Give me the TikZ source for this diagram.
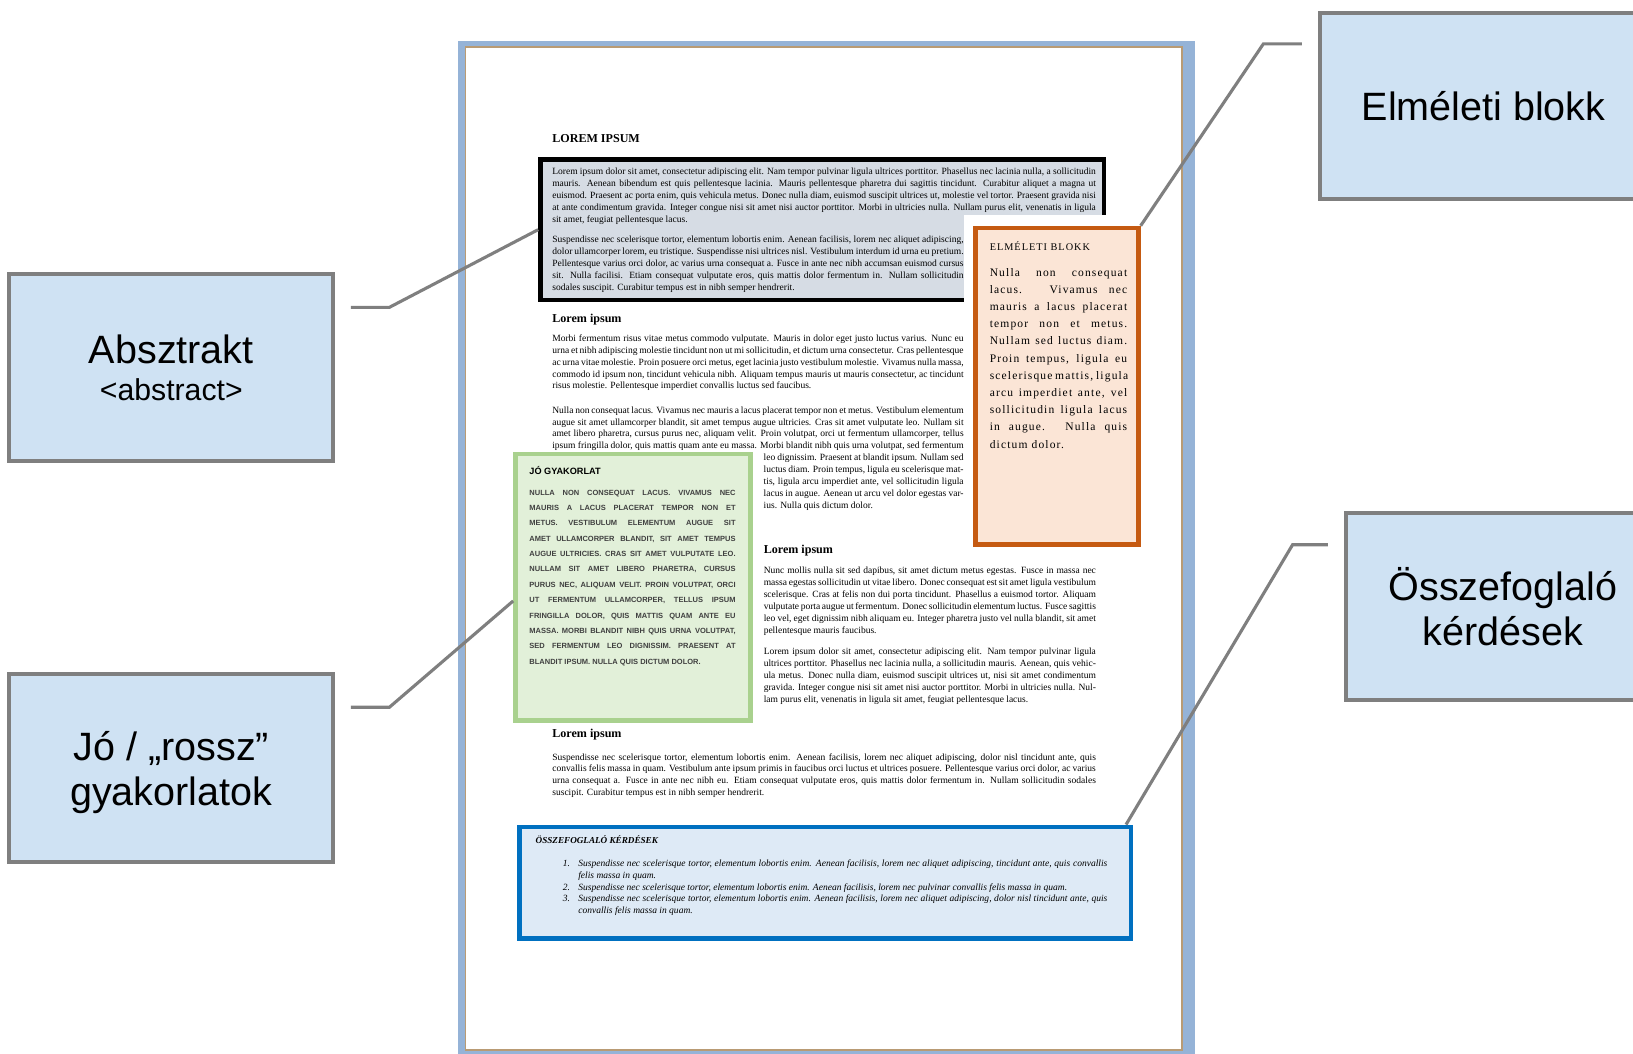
\documentclass[tikz,border=0pt]{standalone}
\usepackage{fontspec}
\setmainfont{Liberation Serif}
\newfontfamily\calloutfont{Liberation Sans}
\newfontfamily\wideserif[LetterSpace=10]{Liberation Serif}
\usetikzlibrary{calc}

\definecolor{calloutfill}{HTML}{CFE2F3}
\definecolor{calloutline}{HTML}{7F7F7F}
\definecolor{pageshadow}{HTML}{95B3D7}
\definecolor{pageedge}{HTML}{B99B74}
\definecolor{abstractfill}{HTML}{D6DCE4}
\definecolor{theoryline}{HTML}{C55A11}
\definecolor{theoryfill}{HTML}{FBE5D6}
\definecolor{goodline}{HTML}{A9D18E}
\definecolor{goodfill}{HTML}{E2F0D9}
\definecolor{summaryline}{HTML}{0070C0}
\definecolor{summaryfill}{HTML}{DEEAF6}

\tikzset{
  callout/.style={draw=calloutline, line width=2.2pt, fill=calloutfill, align=center, inner sep=0pt,
    text depth=0pt, font=\calloutfont\fontsize{21.6}{24.6}\selectfont},
  conn/.style={draw=calloutline, line width=1.7pt},
  block/.style={line width=2.6pt, inner sep=0pt},
  pagetext/.style={anchor=north west, inner sep=0pt, align=justify, font=\fontsize{5.2}{6.5}\selectfont},
  pagehead/.style={anchor=north west, inner sep=0pt, font=\bfseries\fontsize{6.6}{7}\selectfont},
}

\begin{document}
\begin{tikzpicture}[x=0.02cm, y=-0.02cm]
 \useasboundingbox (0,0) rectangle (1568,1012);
 \clip (0,0) rectangle (1568,1012);

 % la page
 \fill[pageshadow] (440,39) rectangle (1147,1015);
 \draw[pageedge, fill=white, line width=0.8pt] (447,45) rectangle (1135,1008);

 \node[pagehead] (title) at (530,129) {LOREM IPSUM};

 % absztrakt blokk
 \node[block, draw=black, fill=abstractfill, minimum width=10.82cm, minimum height=2.7cm] (abstractblk) at (789.5,220.5) {};
 \node[pagetext, text width=10.44cm] (abs1) at (530,161) {Lorem ipsum dolor sit amet, consectetur adipiscing elit. Nam tempor pulvinar ligula ultrices porttitor. Phasellus nec lacinia nulla, a sollicitudin mauris. Aenean bibendum est quis pellentesque lacinia. Mauris pellentesque pharetra dui sagittis tincidunt. Curabitur aliquet a magna ut euismod. Praesent ac porta enim, quis vehicula metus. Donec nulla diam, euismod suscipit ultrices ut, molestie vel tortor. Praesent gravida nisi at ante condimentum gravida. Integer congue nisi sit amet nisi auctor porttitor. Morbi in ultricies nulla. Nullam purus elit, venenatis in ligula sit amet, feugiat pellentesque lacus.};
 \node[pagetext, text width=7.9cm] (abs2) at (530,226) {Suspendisse nec scelerisque tortor, elementum lobortis enim. Aenean facilisis, lorem nec aliquet adipiscing, dolor ullamcorper lorem, eu tristique. Suspendisse nisi ultrices nisl. Vestibulum interdum id urna eu pretium. Pellentesque varius orci dolor, ac varius urna consequat a. Fusce in ante nec nibh accumsan euismod cursus sit. Nulla facilisi. Etiam consequat vulputate eros, quis mattis dolor fermentum in. Nullam sollicitudin sodales suscipit. Curabitur tempus est in nibh semper hendrerit.};

 % elméleti blokk
 \fill[white] (926,206) rectangle (1103,531);
 \node[block, draw=theoryline, fill=theoryfill, minimum width=3.12cm, minimum height=6.08cm] (theoryblk) at (1015,371) {};
 \node[anchor=north west, inner sep=0pt, font=\wideserif\fontsize{5.6}{6}\selectfont] (theoryhead) at (950,232) {ELMÉLETI BLOKK};
 \node[anchor=north west, inner sep=0pt, text width=2.64cm, align=justify, font=\wideserif\fontsize{6.3}{9.4}\selectfont] (theorytext) at (950,257) {\hyphenpenalty=10000 \emergencystretch=20pt Nulla non consequat lacus. Vivamus nec mauris a lacus placerat tempor non et metus. Nullam sed luctus diam. Proin tempus, ligula eu scelerisque mattis, ligula arcu imperdiet ante, vel sollicitudin ligula lacus in augue. Nulla quis dictum dolor.\par};

 \node[pagehead] (head1) at (530,301) {Lorem ipsum};
 \node[pagetext, text width=7.9cm] (sec1a) at (530,321) {Morbi fermentum risus vitae metus commodo vulputate. Mauris in dolor eget justo luctus varius. Nunc eu urna et nibh adipiscing molestie tincidunt non ut mi sollicitudin, et dictum urna consectetur. Cras pellentesque ac urna vitae molestie. Proin posuere orci metus, eget lacinia justo vestibulum molestie. Vivamus nulla massa, commodo id ipsum non, tincidunt vehicula nibh. Aliquam tempus mauris ut mauris consectetur, ac tincidunt risus molestie. Pellentesque imperdiet convallis luctus sed faucibus.};
 \node[pagetext, text width=7.9cm] (sec1b) at (530,390) {\parshape 5 0cm 7.9cm 0cm 7.9cm 0cm 7.9cm 0cm 7.9cm 4.06cm 3.84cm Nulla non consequat lacus. Vivamus nec mauris a lacus placerat tempor non et metus. Vestibulum elementum augue sit amet ullamcorper blandit, sit amet tempus augue ultricies. Cras sit amet vulputate leo. Nullam sit amet libero pharetra, cursus purus nec, aliquam velit. Proin volutpat, orci ut fermentum ullamcorper, tellus ipsum fringilla dolor, quis mattis quam ante eu massa. Morbi blandit nibh quis urna volutpat, sed fermentum leo dignissim. Praesent at blandit ipsum. Nullam sed luctus diam. Proin tempus, ligula eu scelerisque mattis, ligula arcu imperdiet ante, vel sollicitudin ligula lacus in augue. Aenean ut arcu vel dolor egestas varius. Nulla quis dictum dolor.\par};

 % jó gyakorlat
 \node[block, draw=goodline, fill=goodfill, minimum width=4.52cm, minimum height=5.12cm] (goodblk) at (608,564) {};
 \node[anchor=north west, inner sep=0pt, font=\calloutfont\bfseries\fontsize{5}{6}\selectfont] (goodhead) at (508,447) {JÓ GYAKORLAT};
 \node[anchor=north west, inner sep=0pt, text width=3.96cm, align=justify, text=black!75, font=\calloutfont\bfseries\fontsize{4.1}{8.4}\selectfont] (goodtext) at (508,470) {\hyphenpenalty=10000 \emergencystretch=10pt NULLA NON CONSEQUAT LACUS. VIVAMUS NEC MAURIS A LACUS PLACERAT TEMPOR NON ET METUS. VESTIBULUM ELEMENTUM AUGUE SIT AMET ULLAMCORPER BLANDIT, SIT AMET TEMPUS AUGUE ULTRICIES. CRAS SIT AMET VULPUTATE LEO. NULLAM SIT AMET LIBERO PHARETRA, CURSUS PURUS NEC, ALIQUAM VELIT. PROIN VOLUTPAT, ORCI UT FERMENTUM ULLAMCORPER, TELLUS IPSUM FRINGILLA DOLOR, QUIS MATTIS QUAM ANTE EU MASSA. MORBI BLANDIT NIBH QUIS URNA VOLUTPAT, SED FERMENTUM LEO DIGNISSIM. PRAESENT AT BLANDIT IPSUM. NULLA QUIS DICTUM DOLOR.\par};

 \node[pagehead] (head2) at (733,523) {Lorem ipsum};
 \node[pagetext, text width=6.38cm] (sec2a) at (733,544) {Nunc mollis nulla sit sed dapibus, sit amet dictum metus egestas. Fusce in massa nec massa egestas sollicitudin ut vitae libero. Donec consequat est sit amet ligula vestibulum scelerisque. Cras at felis non dui porta tincidunt. Phasellus a euismod tortor. Aliquam vulputate porta augue ut fermentum. Donec sollicitudin elementum luctus. Fusce sagittis leo vel, eget dignissim nibh aliquam eu. Integer pharetra justo vel nulla blandit, sit amet pellentesque mauris faucibus.};
 \node[pagetext, text width=6.38cm] (sec2b) at (733,622) {Lorem ipsum dolor sit amet, consectetur adipiscing elit. Nam tempor pulvinar ligula ultrices porttitor. Phasellus nec lacinia nulla, a sollicitudin mauris. Aenean, quis vehicula metus. Donec nulla diam, euismod suscipit ultrices ut, nisi sit amet condimentum gravida. Integer congue nisi sit amet nisi auctor porttitor. Morbi in ultricies nulla. Nullam purus elit, venenatis in ligula sit amet, feugiat pellentesque lacus.};

 \node[pagehead] (head3) at (530,700) {Lorem ipsum};
 \node[pagetext, text width=10.44cm] (sec3) at (530,723) {Suspendisse nec scelerisque tortor, elementum lobortis enim. Aenean facilisis, lorem nec aliquet adipiscing, dolor nisl tincidunt ante, quis convallis felis massa in quam. Vestibulum ante ipsum primis in faucibus orci luctus et ultrices posuere. Pellentesque varius orci dolor, ac varius urna consequat a. Fusce in ante nec nibh eu. Etiam consequat vulputate eros, quis mattis dolor fermentum in. Nullam sollicitudin sodales suscipit. Curabitur tempus est in nibh semper hendrerit.};

 % összefoglaló kérdések
 \node[block, draw=summaryline, fill=summaryfill, minimum width=11.74cm, minimum height=2.14cm] (summaryblk) at (792.5,847.5) {};
 \node[anchor=north west, inner sep=0pt, font=\bfseries\itshape\fontsize{5}{6}\selectfont] (summaryhead) at (514,802) {ÖSSZEFOGLALÓ KÉRDÉSEK};
 \node[pagetext, text width=10.46cm, font=\itshape\fontsize{5.2}{6.5}\selectfont] (summarylist) at (540,825) {%
  \hangindent=8.5pt\hangafter=1\makebox[8.5pt][l]{1.}Suspendisse nec scelerisque tortor, elementum lobortis enim. Aenean facilisis, lorem nec aliquet adipiscing, tincidunt ante, quis convallis felis massa in quam.\par
  \hangindent=8.5pt\hangafter=1\makebox[8.5pt][l]{2.}Suspendisse nec scelerisque tortor, elementum lobortis enim. Aenean facilisis, lorem nec pulvinar convallis felis massa in quam.\par
  \hangindent=8.5pt\hangafter=1\makebox[8.5pt][l]{3.}Suspendisse nec scelerisque tortor, elementum lobortis enim. Aenean facilisis, lorem nec aliquet adipiscing, dolor nisl tincidunt ante, quis convallis felis massa in quam.\par};

 % les encadrés
 \node[callout, minimum width=6.22cm, minimum height=3.6cm] (absztrakt) at (164.5,353) {Absztrakt\\[-4pt]{\fontsize{16.5}{18}\selectfont <abstract>}};
 \node[callout, minimum width=6.22cm, minimum height=3.62cm] (jo) at (164.5,737.5) {Jó / „rossz”\\gyakorlatok};
 \node[callout, minimum width=6.3cm, minimum height=3.58cm] (elmeleti) at (1424.5,101.5) {Elméleti blokk};
 \node[callout, minimum width=6.04cm, minimum height=3.58cm] (osszefog) at (1443,582.5) {Összefoglaló\\kérdések};

 % les traits de rappel
 \coordinate (absztrakt-c) at ($(absztrakt.north east)+(15,34)$);
 \coordinate (jo-c) at ($(jo.north east)+(15,34)$);
 \coordinate (elmeleti-c) at ($(elmeleti.north west)+(-15,32)$);
 \coordinate (osszefog-c) at ($(osszefog.north west)+(-15,32)$);
 \draw[conn] (absztrakt-c) -- ++(37,0) -- (abstractblk.west);
 \draw[conn] (jo-c) -- ++(37,0) -- ($(goodblk.north west)!0.55!(goodblk.south west)$);
 \draw[conn] (elmeleti-c) -- ++(-37,0) -- (theoryblk.north east);
 \draw[conn] (osszefog-c) -- ++(-34,0) -- ($(summaryblk.north east)+(-7,0)$);
\end{tikzpicture}
\end{document}
